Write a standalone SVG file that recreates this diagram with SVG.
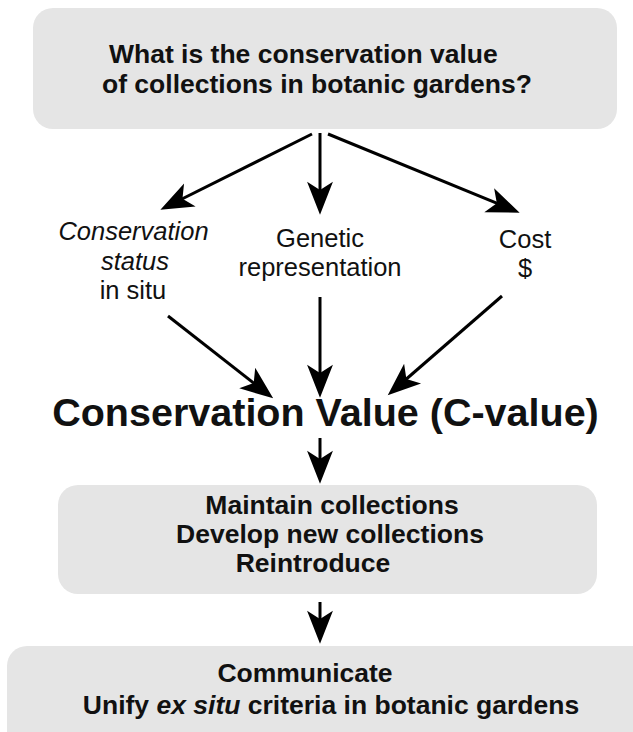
<svg xmlns="http://www.w3.org/2000/svg" width="633" height="732" viewBox="0 0 633 732">
<style>
.box{fill:#e5e5e5;}
.t{font-family:"Liberation Sans",Arial,sans-serif;fill:#111;}
.b{font-weight:bold;}
.lbl{font-size:25.5px;text-anchor:middle;}
.conn{stroke:#000;stroke-width:3;fill:none;marker-end:url(#ah);}
</style>
<defs>
<marker id="ah" markerUnits="userSpaceOnUse" markerWidth="40" markerHeight="40" refX="18" refY="0" viewBox="-2 -14 34 28" orient="auto" overflow="visible">
<path d="M0,-11 L28,0 L0,11 L7,0 Z" fill="#000"/>
</marker>
</defs>
<rect width="633" height="732" fill="#fff"/>
<g id="question">
<rect class="box" x="33" y="8" width="584" height="121" rx="20"/>
<text class="t b" font-size="26.5" x="109" y="63">What is the conservation value</text>
<text class="t b" font-size="26.5" x="102" y="93">of collections in botanic gardens?</text>
</g>
<g id="status">
<text class="t lbl" x="133.5" y="240" font-style="italic">Conservation</text>
<text class="t lbl" x="135" y="270" font-style="italic">status</text>
<text class="t lbl" x="133" y="299">in situ</text>
</g>
<g id="genetic">
<text class="t lbl" x="320" y="247">Genetic</text>
<text class="t lbl" x="320" y="276">representation</text>
</g>
<g id="cost">
<text class="t lbl" x="525" y="248">Cost</text>
<text class="t lbl" x="525" y="277">$</text>
</g>
<g id="cvalue">
<text class="t b" font-size="39.5" x="325.5" y="426" text-anchor="middle">Conservation Value (C-value)</text>
</g>
<g id="actions">
<rect class="box" x="58" y="485" width="539" height="109" rx="20"/>
<text class="t b" font-size="26.5" x="332" y="514" text-anchor="middle">Maintain collections</text>
<text class="t b" font-size="26.5" x="330" y="543" text-anchor="middle">Develop new collections</text>
<text class="t b" font-size="26.5" x="313" y="572" text-anchor="middle">Reintroduce</text>
</g>
<g id="communicate">
<rect class="box" x="7" y="646" width="645" height="110" rx="20"/>
<text class="t b" font-size="26.5" x="305" y="682" text-anchor="middle">Communicate</text>
<text class="t b" font-size="26.5" x="331" y="714" text-anchor="middle">Unify <tspan font-style="italic">ex situ</tspan> criteria in botanic gardens</text>
</g>
<g id="connectors">
<line class="conn" x1="312" y1="134" x2="170.9" y2="204.5"/>
<line class="conn" x1="320" y1="133" x2="320" y2="203"/>
<line class="conn" x1="328" y1="134" x2="508.8" y2="208.2"/>
<line class="conn" x1="168" y1="316" x2="263.9" y2="391.1"/>
<line class="conn" x1="320" y1="297" x2="320" y2="386"/>
<line class="conn" x1="502" y1="296" x2="396.6" y2="387.5"/>
<line class="conn" x1="320" y1="438" x2="320" y2="472"/>
<line class="conn" x1="320" y1="602" x2="320" y2="632"/>
</g>
</svg>
